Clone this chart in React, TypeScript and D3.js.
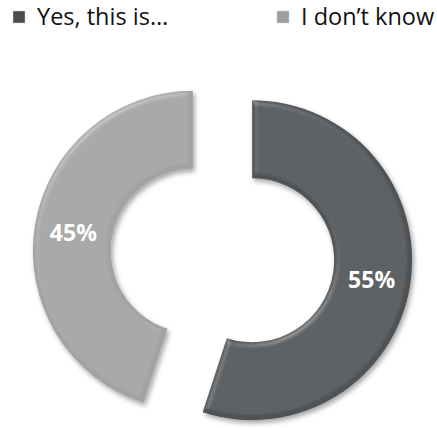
import React from "react";
import * as d3 from "d3";

const categories = ["Yes, this is…", "I don’t know"];
const values = [55, 45];
const labels = ["55%", "45%"];
const colors = ["#505356", "#a0a2a4"];
const markerColors = ["#4a4c4f", "#9c9ea0"];

const W = 437;
const H = 428;

export default function App() {
  const cx = 222.5;
  const cy = 255.5;
  const outerR = 160;
  const innerR = 82;
  const explode = 30;

  const pie = d3.pie<number>().sort(null).value((d) => d).startAngle(0).endAngle(2 * Math.PI);
  const arcs = pie(values);
  const arcGen = d3.arc<d3.PieArcDatum<number>>().innerRadius(innerR).outerRadius(outerR);

  return (
    <svg
      width={W}
      height={H}
      style={{ position: "absolute", left: 0, top: 0, background: "#fff" }}
      fontFamily="'Open Sans', 'Noto Sans', sans-serif"
    >
      <defs>
        <filter id="shadow" x="-20%" y="-20%" width="140%" height="140%">
          <feDropShadow dx="2" dy="3" stdDeviation="2.5" floodColor="#000" floodOpacity="0.35" />
        </filter>
        <filter id="bevel" x="-10%" y="-10%" width="120%" height="120%">
          <feGaussianBlur in="SourceAlpha" stdDeviation="2.5" result="blur" />
          <feSpecularLighting in="blur" surfaceScale="3" specularConstant="0.18" specularExponent="16" lightingColor="#ffffff" result="spec">
            <feDistantLight azimuth="235" elevation="40" />
          </feSpecularLighting>
          <feComposite in="spec" in2="SourceAlpha" operator="in" result="specOut" />
          <feComposite in="SourceGraphic" in2="specOut" operator="arithmetic" k1="0" k2="1" k3="1" k4="0" />
        </filter>
      </defs>
      {arcs.map((a, i) => {
        const mid = (a.startAngle + a.endAngle) / 2;
        const ox = cx + explode * Math.sin(mid);
        const oy = cy - explode * Math.cos(mid);
        const [lx, ly] = arcGen.centroid(a);
        return (
          <g key={i} transform={`translate(${ox},${oy})`}>
            <g filter="url(#shadow)">
              <path d={arcGen(a) || ""} fill={colors[i]} filter="url(#bevel)" />
            </g>
            <text
              x={lx}
              y={ly}
              textAnchor="middle"
              dominantBaseline="central"
              fill="#fff"
              fontSize={23}
              fontWeight="bold"
            >
              {labels[i]}
            </text>
          </g>
        );
      })}
      {categories.map((c, i) => {
        const x0 = i === 0 ? 13 : 277;
        return (
          <g key={c}>
            <rect x={x0} y={11} width={12} height={12} fill={markerColors[i]} stroke="#ccc" strokeWidth={0.5} />
            <text x={x0 + 24} y={25} fontSize={23.5} fill="#111">
              {c}
            </text>
          </g>
        );
      })}
    </svg>
  );
}
